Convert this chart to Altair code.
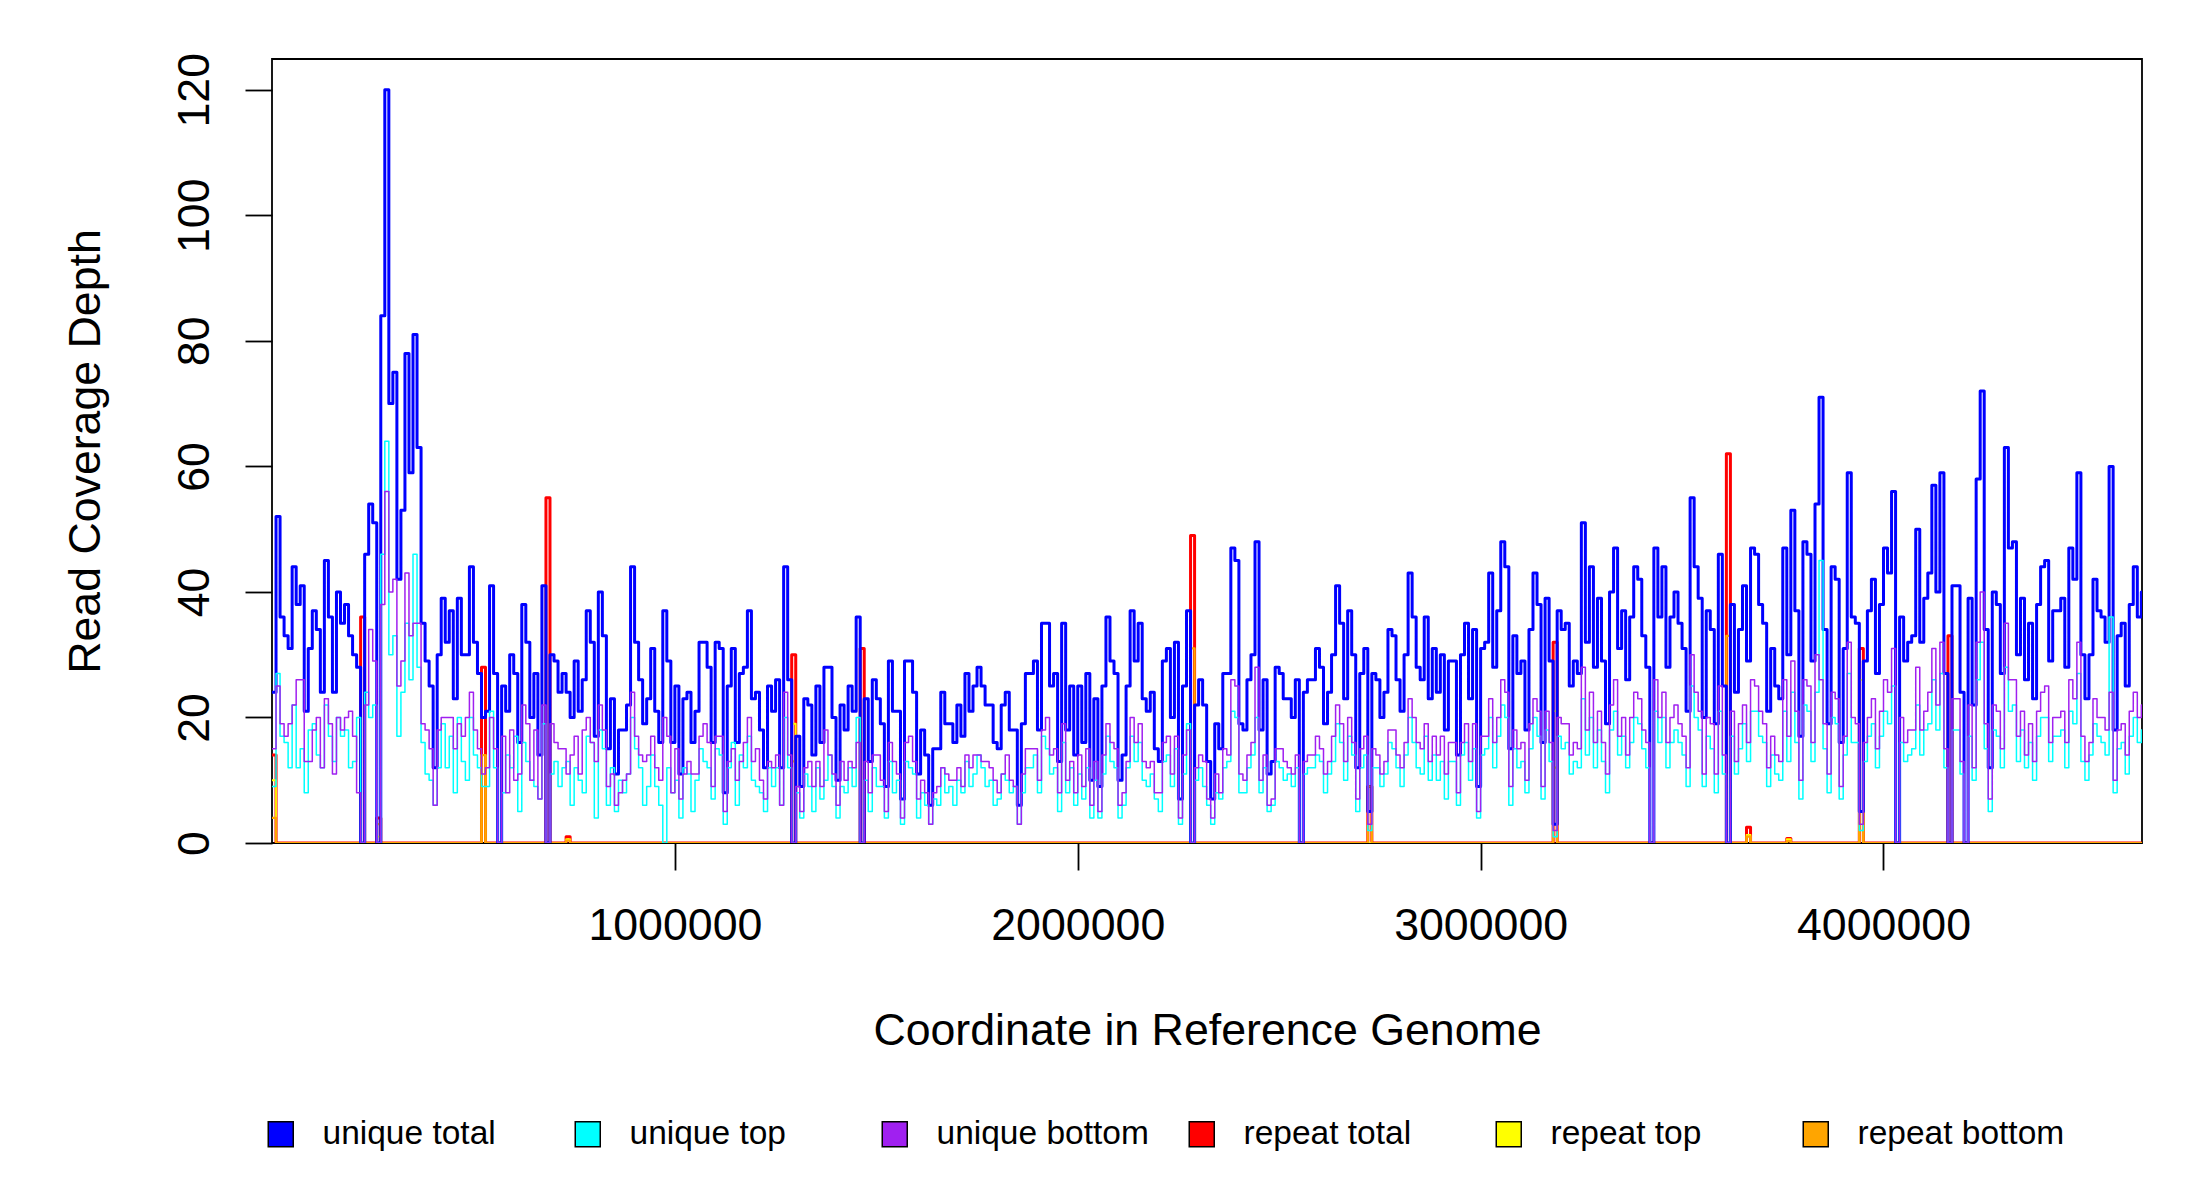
import altair as alt
import pandas as pd

bin_size = 10000
genome_length = 4641652

unique_total = [
    24,52,36,33,31,44,38,41,21,31,
    37,34,24,45,36,24,40,35,38,33,
    30,28,0,46,54,51,0,84,120,
    70,75,42,53,78,59,81,63,35,29,
    25,12,30,39,32,37,23,39,30,30,44,
    32,27,20,21,41,27,0,25,21,30,
    27,16,38,32,20,27,14,41,0,30,
    29,24,27,24,20,29,21,26,37,32,
    17,40,33,15,23,11,18,18,22,44,
    32,26,19,23,31,21,16,37,29,16,
    25,11,23,24,16,21,32,32,28,16,
    32,31,8,25,31,16,27,28,37,23,
    24,18,12,25,21,26,12,44,26,0,
    17,9,23,22,14,25,16,28,28,20,
    10,22,18,25,21,36,0,23,13,26,
    23,19,9,29,21,21,7,29,29,24,
    11,18,14,6,15,15,24,19,19,16,
    22,17,27,21,25,28,25,22,22,16,
    15,22,24,18,18,6,19,27,27,29,
    18,35,35,25,27,13,35,18,25,14,
    25,16,27,10,23,9,25,36,29,27,
    10,14,25,37,29,35,23,21,24,15,
    13,29,31,20,32,7,25,37,0,22,
    26,22,13,7,19,15,27,27,47,45,
    19,18,26,30,48,18,26,11,13,28,
    27,23,23,20,26,0,24,26,26,31,
    28,19,24,30,41,35,23,37,30,12,
    27,31,5,27,26,20,24,34,33,26,
    21,30,43,36,28,26,36,23,31,24,
    30,18,29,29,14,30,35,23,34,9,
    31,32,43,28,37,48,44,15,33,27,
    29,18,34,43,38,16,39,29,3,37,
    34,35,25,29,27,51,32,44,28,39,
    29,19,40,47,31,37,26,36,44,42,
    33,28,0,47,36,44,28,36,40,35,
    31,21,55,44,39,20,37,34,19,46,
    25,0,38,24,34,41,29,47,46,38,
    35,21,31,25,23,47,30,53,37,17,
    48,46,29,54,71,34,19,44,42,16,
    31,59,36,35,5,29,37,42,27,38,
    47,43,56,0,36,29,32,33,50,32,
    39,43,57,40,59,27,0,41,41,24,
    0,39,22,58,72,34,12,40,38,27,
    63,47,48,30,39,26,35,23,38,44,
    45,29,37,37,39,28,47,42,59,30,
    23,30,42,37,36,32,60,18,33,35,
    25,38,44,36,40,
]

unique_top = [
    9,27,17,16,12,22,12,15,8,18,
    19,14,12,22,17,13,20,17,18,12,
    13,20,0,24,20,22,0,46,64,
    30,33,17,24,35,26,46,28,16,11,
    10,6,12,19,12,17,8,20,13,10,20,
    14,12,9,9,21,12,0,8,14,12,
    17,5,16,13,10,9,7,19,0,11,
    13,9,12,13,6,12,10,8,17,16,
    4,18,15,6,12,5,10,8,11,20,
    15,12,6,9,14,9,6,0,12,8,
    10,4,12,11,5,10,15,13,12,7,
    15,14,3,12,16,6,14,12,17,10,
    9,8,5,12,9,12,6,20,12,0,
    8,4,11,9,5,12,7,10,14,9,
    4,9,8,12,9,20,0,10,5,12,
    9,9,4,13,8,10,3,13,12,11,
    4,8,6,3,7,6,12,8,9,6,
    10,8,13,9,11,14,12,9,10,6,
    7,11,10,8,9,3,8,12,12,14,
    8,17,15,11,12,5,16,8,12,6,
    11,7,12,4,10,4,11,17,13,12,
    4,6,12,17,13,16,10,9,11,7,
    5,13,14,9,15,3,11,19,0,10,
    12,9,6,3,8,7,12,13,21,20,
    8,8,12,14,20,8,12,5,6,13,
    12,10,11,9,12,0,11,12,12,14,
    13,8,11,13,19,16,10,17,14,5,
    12,14,2,12,12,9,11,16,15,12,
    9,14,20,16,12,11,17,10,14,10,
    13,7,13,13,6,14,16,10,15,4,
    14,15,20,12,17,22,20,6,15,12,
    13,8,15,20,17,7,18,13,1,17,
    15,16,11,13,12,23,14,20,12,18,
    13,8,18,21,14,17,12,16,20,19,
    15,12,0,21,16,20,12,16,18,16,
    14,9,25,20,18,9,17,15,8,21,
    11,0,17,11,15,19,13,21,21,17,
    16,9,14,11,10,21,13,24,16,7,
    22,21,13,24,45,15,8,20,19,7,
    14,27,16,16,2,13,17,19,12,17,
    21,19,25,0,16,13,14,15,22,14,
    18,19,26,18,27,12,0,18,18,11,
    0,17,10,26,32,15,5,18,17,12,
    28,21,22,13,18,12,16,10,17,20,
    20,13,17,17,18,12,21,19,27,13,
    10,14,19,17,16,14,36,8,15,16,
    11,17,20,16,18,
]

unique_bottom = [
    15,25,19,17,19,22,26,26,13,13,
    18,20,12,23,19,11,20,18,20,21,
    17,8,0,22,34,29,0,38,56,
    40,42,25,29,43,33,35,35,19,18,
    15,6,18,20,20,20,15,19,17,20,24,
    18,15,11,12,20,15,0,17,8,18,
    10,11,22,19,10,18,7,22,0,19,
    16,15,15,11,14,17,11,18,20,16,
    13,22,18,9,11,6,8,10,11,24,
    17,14,13,14,17,12,10,20,17,8,
    15,7,11,13,11,11,17,19,16,9,
    17,17,5,13,15,10,13,16,20,13,
    15,10,7,13,12,14,6,24,14,0,
    9,5,12,13,9,13,9,18,14,11,
    6,13,10,13,12,16,0,13,8,14,
    14,10,5,16,13,11,4,16,17,13,
    7,10,8,3,8,9,12,11,10,10,
    12,9,14,12,14,14,13,13,12,10,
    8,11,14,10,9,3,11,15,15,15,
    10,18,20,14,15,8,19,10,13,8,
    14,9,15,6,13,5,14,19,16,15,
    6,8,13,20,16,19,13,12,13,8,
    8,16,17,11,17,4,14,18,0,12,
    14,13,7,4,11,8,15,14,26,25,
    11,10,14,16,28,10,14,6,7,15,
    15,13,12,11,14,0,13,14,14,17,
    15,11,13,17,22,19,13,20,16,7,
    15,17,3,15,14,11,13,18,18,14,
    12,16,23,20,16,15,19,13,17,14,
    17,11,16,16,8,16,19,13,19,5,
    17,17,23,16,20,26,24,9,18,15,
    16,10,19,23,21,9,21,16,2,20,
    19,19,14,16,15,28,18,24,16,21,
    16,11,22,26,17,20,14,20,24,23,
    18,16,0,26,20,24,16,20,22,19,
    17,12,30,24,21,11,20,19,11,25,
    14,0,21,13,19,22,16,26,25,21,
    19,12,17,14,13,26,17,29,21,10,
    26,25,16,30,26,19,11,24,23,9,
    17,32,20,19,3,16,20,23,15,21,
    26,24,31,0,20,16,18,18,28,18,
    21,24,31,22,32,15,0,23,23,13,
    0,22,12,32,40,19,7,22,21,15,
    35,26,26,17,21,14,19,13,21,24,
    25,16,20,20,21,16,26,23,32,17,
    13,16,23,20,20,18,24,10,18,19,
    14,21,24,20,22,
]

# repeat coverage is zero except in a few bins
repeat_bins = [0, 22, 26, 52, 68, 73, 129, 146, 228, 272, 318, 361, 366, 376, 394, 416]
repeat_total_vals = [14, 36, 4, 28, 55, 1, 30, 31, 49, 9, 32, 62, 2.5, 0.7, 31, 33]
repeat_top_vals = [10, 0, 1, 14, 0, 0.6, 19, 0, 0, 0, 21, 0, 1.3, 0.6, 26, 0]
repeat_bottom_vals = [4, 0, 3, 14, 0, 0.4, 13, 0, 31, 9, 12, 33, 1.0, 0.3, 5, 0]

series_names = ["unique total", "unique top", "unique bottom",
                "repeat total", "repeat top", "repeat bottom"]
series_colors = ["#0000FF", "#00FFFF", "#A020F0", "#FF0000", "#FFFF00", "#FFA500"]
series_widths = [3.0, 1.5, 1.5, 3.0, 1.8, 2.2]
draw_order = ["repeat total", "repeat top", "repeat bottom",
              "unique total", "unique top", "unique bottom"]

x_ticks = [1000000, 2000000, 3000000, 4000000]
y_ticks = [0, 20, 40, 60, 80, 100, 120]

n_bins = len(unique_total)


def expand(vals):
    out = [0.0] * n_bins
    for i, v in zip(repeat_bins, vals):
        out[i] = v
    return out


series_values = {
    "unique total": unique_total,
    "unique top": unique_top,
    "unique bottom": unique_bottom,
    "repeat total": expand(repeat_total_vals),
    "repeat top": expand(repeat_top_vals),
    "repeat bottom": expand(repeat_bottom_vals),
}

rows = []
for name, vals in series_values.items():
    for i, v in enumerate(vals):
        rows.append({"series": name, "x": i * bin_size, "value": v})
    rows.append({"series": name, "x": genome_length, "value": vals[-1]})
df = pd.DataFrame(rows)

FONT = "Liberation Sans"

x_scale = alt.Scale(domain=[0, genome_length], nice=False, zero=False)
y_scale = alt.Scale(domain=[0, 124.9], nice=False)

x_axis = alt.Axis(
    values=x_ticks, format="d", title="Coordinate in Reference Genome",
    domain=False, grid=False, ticks=True, tickSize=27, tickWidth=1.8, tickColor="black",
    labelFont=FONT, labelFontSize=44.7, labelColor="black", labelPadding=69,
    labelBaseline="alphabetic", labelOverlap=False, labelFlush=False, labelBound=False,
    titleFont=FONT, titleFontSize=44.7, titleFontWeight="normal", titleColor="black",
    titleX=935, titleY=201, titleAlign="center", titleBaseline="alphabetic", titleAngle=0,
)
y_axis = alt.Axis(
    values=y_ticks, format="d", title="Read Coverage Depth",
    domain=False, grid=False, ticks=True, tickSize=27, tickWidth=1.8, tickColor="black",
    labelFont=FONT, labelFontSize=44.7, labelColor="black", labelPadding=37,
    labelAngle=270, labelAlign="center", labelBaseline="alphabetic",
    labelOverlap=False, labelFlush=False, labelBound=False,
    titleFont=FONT, titleFontSize=44.7, titleFontWeight="normal", titleColor="black",
    titleX=-173, titleY=392, titleAlign="center", titleBaseline="alphabetic", titleAngle=270,
)

xenc = alt.X("x:Q", scale=x_scale, axis=x_axis)
yenc = alt.Y("value:Q", scale=y_scale, axis=y_axis)

layers = []
for name in draw_order:
    k = series_names.index(name)
    layers.append(
        alt.Chart(df).transform_filter(alt.datum.series == name).mark_line(
            color=series_colors[k], strokeWidth=series_widths[k],
            interpolate="step-after", strokeJoin="round", strokeCap="round", clip=True,
        ).encode(x=xenc, y=yenc)
    )

# legend-only layer: points placed outside the x domain and clipped
legend_df = pd.DataFrame({"series": series_names, "x": [-1000000] * 6, "value": [0] * 6})
legend_layer = alt.Chart(legend_df).mark_square(
    clip=True, filled=True, opacity=1, stroke="black", strokeWidth=1.5
).encode(
    x=xenc, y=yenc,
    color=alt.Color(
        "series:N",
        scale=alt.Scale(domain=series_names, range=series_colors),
        legend=alt.Legend(
            title=None, orient="none", legendX=-8, legendY=1058,
            direction="horizontal", columns=6, gridAlign="all",
            symbolType="square", symbolSize=625, symbolStrokeColor="black",
            symbolStrokeWidth=1.5, symbolOpacity=1,
            labelFont=FONT, labelFontSize=33.5, labelColor="black",
            labelOffset=25, labelLimit=500, columnPadding=36, padding=0,
        ),
    ),
)
layers.append(legend_layer)

chart = alt.layer(*layers).properties(
    width=1870, height=784,
    padding={"left": 264, "top": 51, "right": 40, "bottom": 330},
    autosize=alt.AutoSizeParams(type="none"),
    background="white",
).configure_view(stroke="black", strokeWidth=1.8)

chart.save("out.html", embed_options={"renderer": "svg", "actions": False})
